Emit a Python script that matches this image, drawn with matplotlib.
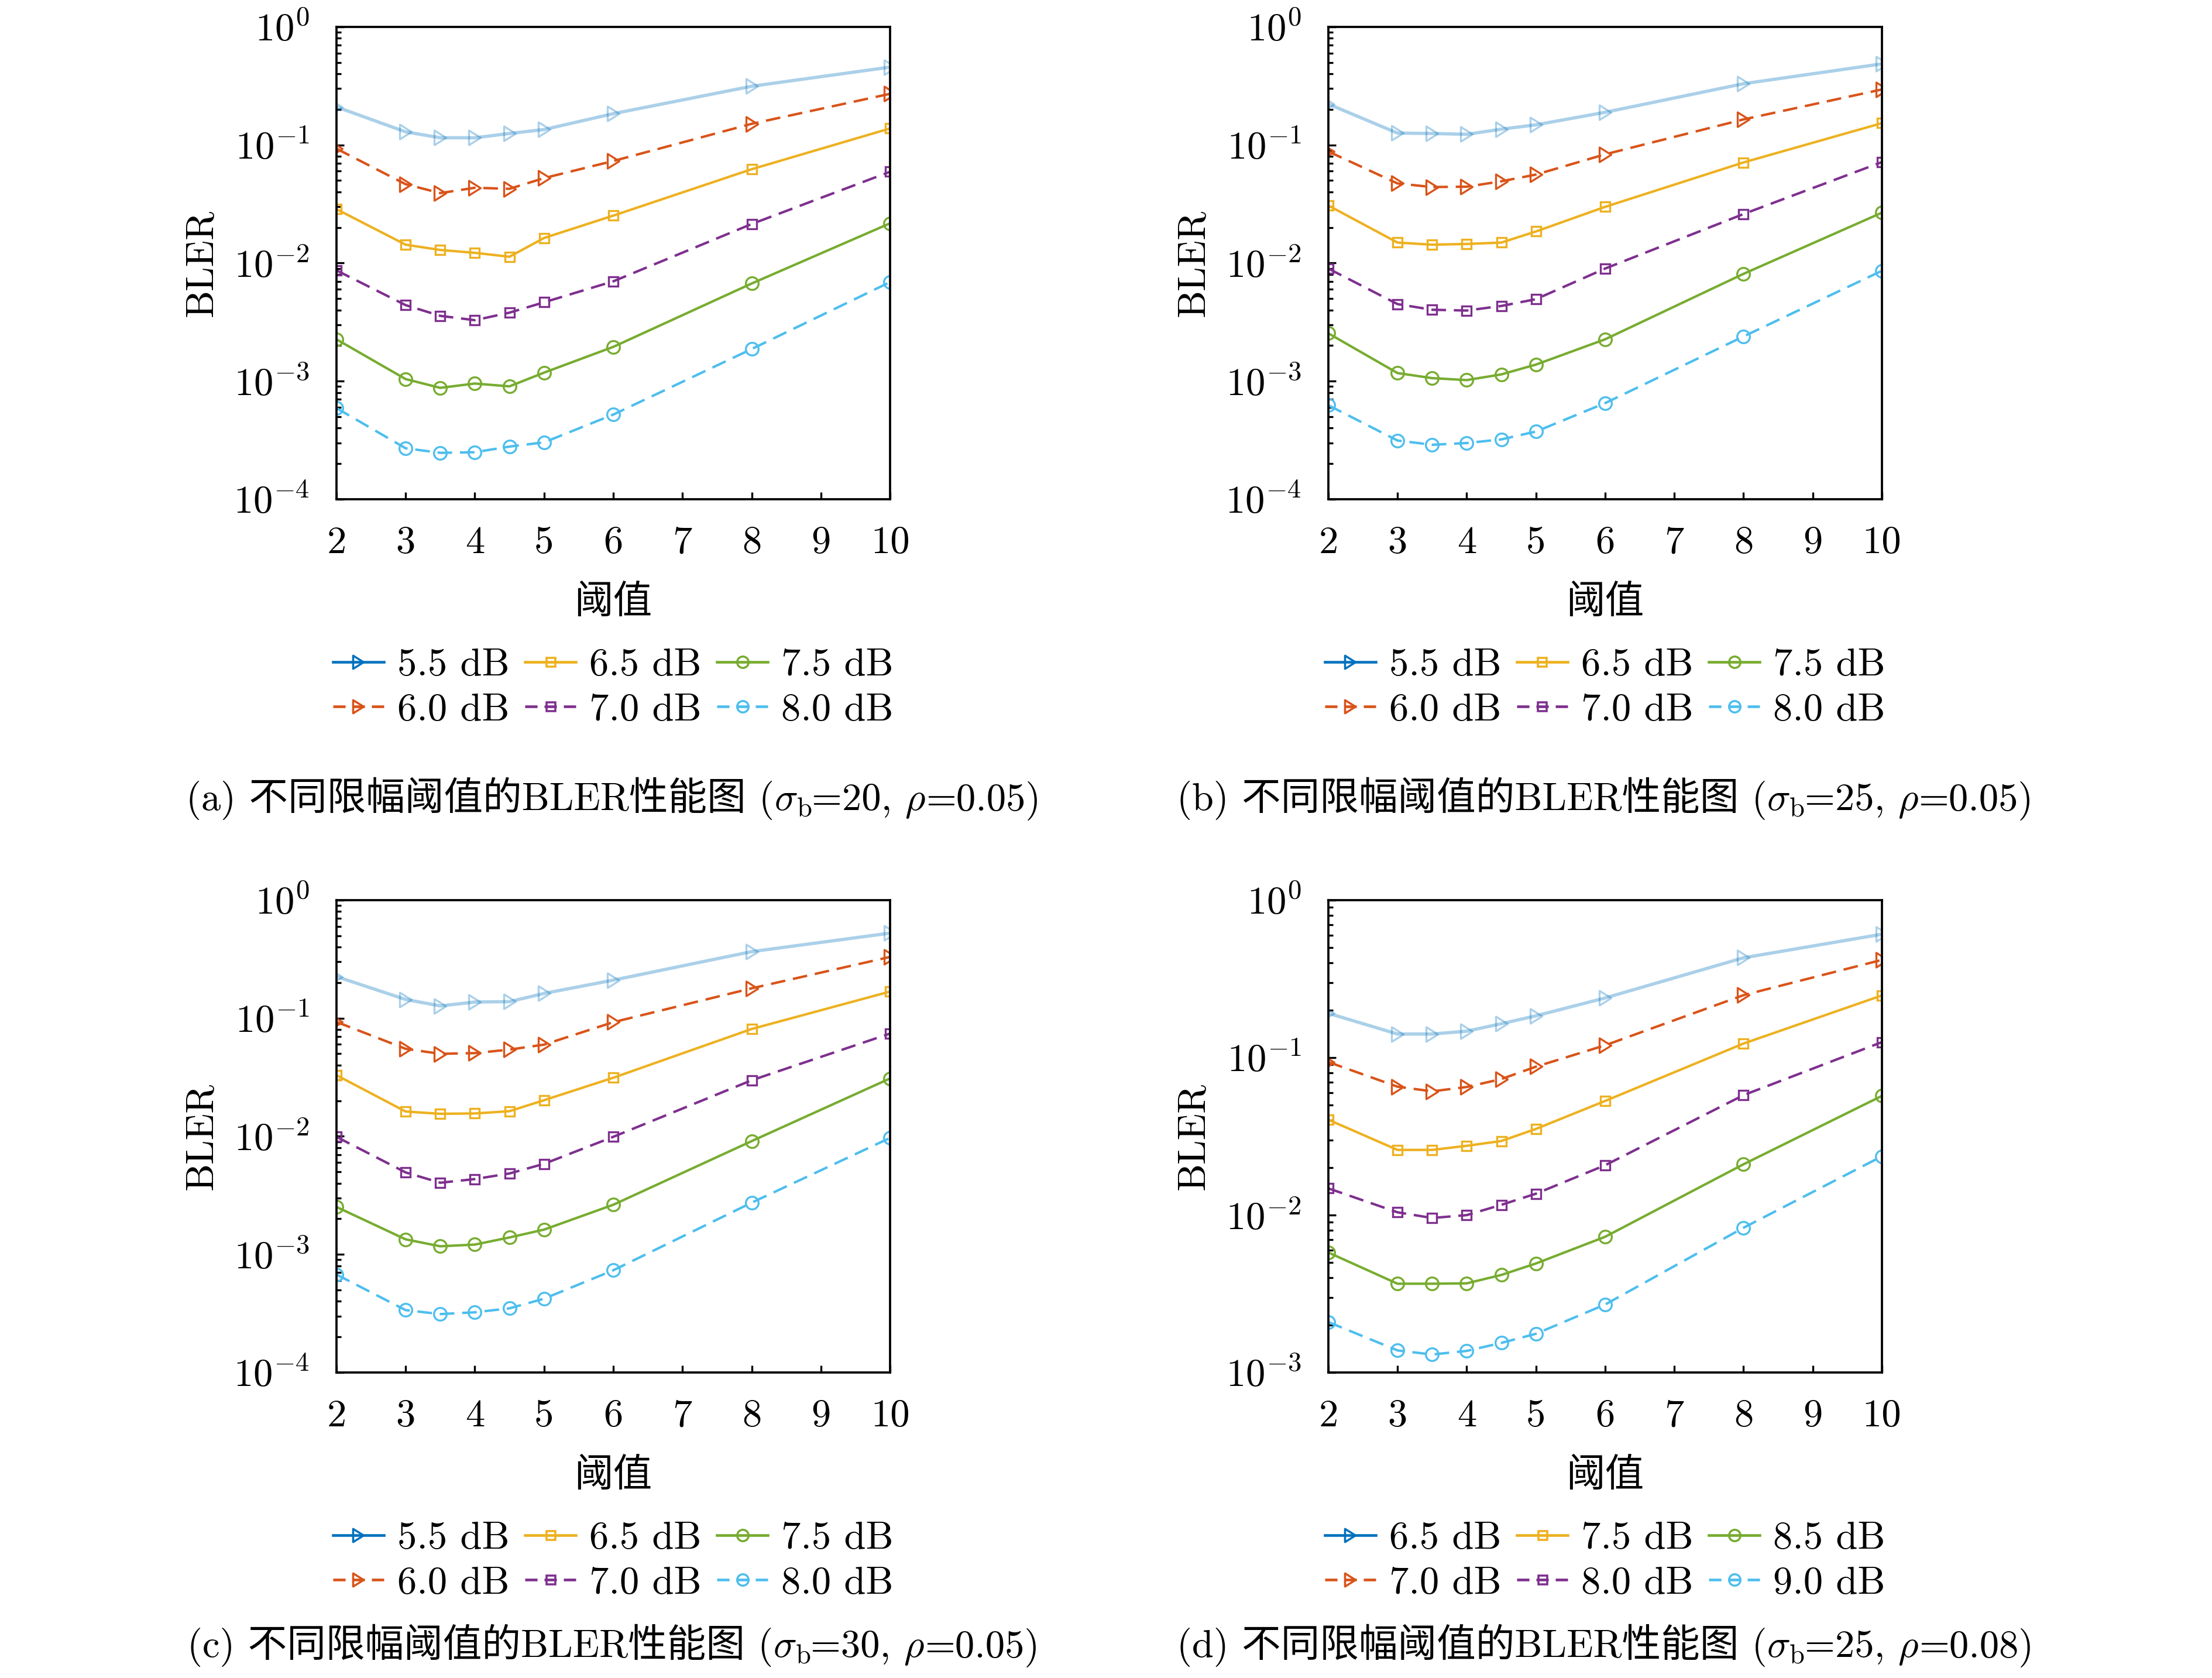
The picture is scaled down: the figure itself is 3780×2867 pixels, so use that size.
import math

import matplotlib
matplotlib.use("Agg")
import matplotlib.pyplot as plt
from matplotlib.lines import Line2D
from matplotlib.offsetbox import AnnotationBbox, HPacker, TextArea
from matplotlib.path import Path
from matplotlib.ticker import FixedLocator, FuncFormatter, LogLocator, NullFormatter

plt.rcParams["font.family"] = ["cmr10", "Noto Sans CJK SC"]
plt.rcParams["mathtext.fontset"] = "cm"
plt.rcParams["font.size"] = 16

# clipping threshold values (x axis)
thr = [2, 3, 3.5, 4, 4.5, 5, 6, 8, 10]

snr_abc = ["5.5 dB", "6.0 dB", "6.5 dB", "7.0 dB", "7.5 dB", "8.0 dB"]
snr_d = ["6.5 dB", "7.0 dB", "7.5 dB", "8.0 dB", "8.5 dB", "9.0 dB"]

# BLER curves, one row per SNR
bler_a = [
    [0.21, 0.129, 0.115, 0.115, 0.125, 0.135, 0.184, 0.314, 0.456],
    [0.093, 0.0465, 0.0391, 0.0434, 0.0425, 0.0524, 0.0731, 0.151, 0.271],
    [0.0286, 0.0143, 0.0129, 0.0122, 0.0113, 0.0163, 0.0252, 0.0623, 0.138],
    [0.00867, 0.0044, 0.00357, 0.00328, 0.0038, 0.00465, 0.0070, 0.0214, 0.0593],
    [0.00226, 0.00104, 0.000877, 0.000954, 0.000903, 0.00118, 0.00195, 0.00671, 0.0217],
    [0.000591, 0.00027, 0.000247, 0.00025, 0.000279, 0.000303, 0.000521, 0.00187, 0.0069],
]
bler_b = [
    [0.222, 0.126, 0.125, 0.123, 0.136, 0.148, 0.189, 0.33, 0.486],
    [0.088, 0.0472, 0.044, 0.0443, 0.0492, 0.0561, 0.0833, 0.1645, 0.295],
    [0.0307, 0.0149, 0.0143, 0.0145, 0.0149, 0.0185, 0.0299, 0.0711, 0.153],
    [0.00898, 0.00449, 0.00402, 0.00396, 0.00433, 0.00494, 0.00898, 0.026, 0.0716],
    [0.00254, 0.00117, 0.00106, 0.00102, 0.00114, 0.00138, 0.00226, 0.0081, 0.0267],
    [0.000625, 0.000314, 0.000289, 0.000299, 0.000321, 0.000374, 0.000651, 0.00239, 0.0086],
]
bler_c = [
    [0.225, 0.144, 0.127, 0.137, 0.138, 0.162, 0.21, 0.366, 0.525],
    [0.093, 0.055, 0.0499, 0.0506, 0.0542, 0.0597, 0.0925, 0.179, 0.33],
    [0.0329, 0.0162, 0.0155, 0.0156, 0.0163, 0.0202, 0.0313, 0.081, 0.168],
    [0.00989, 0.00494, 0.00404, 0.00434, 0.00484, 0.00584, 0.00989, 0.0298, 0.0741],
    [0.00252, 0.00134, 0.00117, 0.00121, 0.00139, 0.00162, 0.00263, 0.0091, 0.0309],
    [0.000675, 0.000337, 0.000312, 0.000323, 0.000349, 0.000421, 0.000733, 0.00274, 0.00969],
]
bler_d = [
    [0.191, 0.141, 0.141, 0.147, 0.164, 0.184, 0.239, 0.43, 0.607],
    [0.0936, 0.0653, 0.061, 0.065, 0.073, 0.0875, 0.1196, 0.249, 0.417],
    [0.0403, 0.0259, 0.0259, 0.0275, 0.0295, 0.0352, 0.053, 0.1227, 0.248],
    [0.01476, 0.0104, 0.00957, 0.00998, 0.0116, 0.01365, 0.0207, 0.0577, 0.1253],
    [0.00578, 0.00366, 0.00366, 0.00368, 0.00416, 0.00492, 0.00727, 0.021, 0.0571],
    [0.00209, 0.00138, 0.0013, 0.00137, 0.00154, 0.00176, 0.0027, 0.0083, 0.0236],
]

# caption parameters per panel
tags = ["(a)", "(b)", "(c)", "(d)"]
sigma_b = ["20", "25", "30", "25"]
rho = ["0.05", "0.05", "0.05", "0.08"]

colors = ["#0072BD", "#D95319", "#EDB120", "#7E2F8E", "#77AC30", "#4DBEEE"]
tri = Path([(-0.8, 1.0), (0.8, 0.0), (-0.8, -1.0), (-0.8, 1.0)], closed=True)
markers = [tri, tri, "s", "s", "o", "o"]
msizes = [6, 6, 4, 4, 5.2, 5.2]
dash = (0, (6, 3.2))
dash_leg = (0, (4.6, 2.6))
styles = ["-", dash, "-", dash, "-", dash]
leg_styles = ["-", dash_leg, "-", dash_leg, "-", dash_leg]


def caption_box(i):
    # CJK text and mathtext cannot share one string, so pack the pieces side by side
    parts = [
        tags[i] + " 不同限幅阈值的BLER性能图 (",
        r"$\sigma_{\mathrm{b}}$",
        "=" + sigma_b[i] + ", ",
        r"$\rho$",
        "=" + rho[i] + ")",
    ]
    areas = [TextArea(p, textprops=dict(fontsize=16)) for p in parts]
    return HPacker(children=areas, align="baseline", pad=0, sep=0)


fig = plt.figure(figsize=(12.6, 2867 / 300), dpi=300)
w, h = 0.2503, 0.2815
lefts = [0.1521, 0.6005, 0.1521, 0.6005]
bottoms = [0.7025, 0.7025, 0.1821, 0.1821]
cap_y = [0.5242, 0.5242, 0.0195, 0.0195]
panels = [(bler_a, snr_abc, 1e-4), (bler_b, snr_abc, 1e-4),
          (bler_c, snr_abc, 1e-4), (bler_d, snr_d, 1e-3)]

for i, (bler, labels, ymin) in enumerate(panels):
    ax = fig.add_axes([lefts[i], bottoms[i], w, h])
    handles = []
    for k, vals in enumerate(bler):
        alpha = 0.33 if k == 0 else 1.0
        lw = 1.35 if k == 0 else 1.0
        ax.plot(thr, vals, color=colors[k], ls=styles[k], lw=lw, alpha=alpha,
                marker=markers[k], ms=msizes[k], mfc="none", mew=0.8)
        handles.append(Line2D([], [], color=colors[k], ls=leg_styles[k], lw=1.1,
                              marker=markers[k], ms=msizes[k] * 0.9, mfc="none", mew=0.85))
    ax.set_yscale("log")
    ax.set_xlim(2, 10)
    ax.set_ylim(ymin, 1)
    ax.xaxis.set_major_locator(FixedLocator(range(2, 11)))
    ax.yaxis.set_major_locator(LogLocator(base=10, numticks=10))
    ax.yaxis.set_minor_locator(LogLocator(base=10, subs=range(2, 10), numticks=20))
    ax.yaxis.set_minor_formatter(NullFormatter())
    ax.yaxis.set_major_formatter(FuncFormatter(lambda v, p: r"$10^{%d}$" % round(math.log10(v))))
    ax.tick_params(which="both", direction="in", top=False, right=False, width=0.8)
    ax.tick_params(which="major", length=3)
    ax.tick_params(which="minor", length=1.8)
    ax.tick_params(axis="x", which="major", pad=11)
    ax.tick_params(axis="y", which="major", pad=11)
    for sp in ax.spines.values():
        sp.set_linewidth(0.9)
    ax.set_xlabel("阈值")
    ax.xaxis.label.set_va("center")
    ax.xaxis.set_label_coords(0.5, -0.22)
    ax.set_ylabel("BLER")
    ax.yaxis.label.set_va("center")
    ax.yaxis.set_label_coords(-0.243, 0.5)
    ax.legend(handles, labels, ncol=3, loc="center", bbox_to_anchor=(0.5, -0.40),
              frameon=False, handlelength=1.3, handletextpad=0.35,
              columnspacing=0.4, labelspacing=0.25, borderpad=0, borderaxespad=0)
    ab = AnnotationBbox(caption_box(i), (lefts[i] + w / 2, cap_y[i]),
                        xycoords="figure fraction", frameon=False,
                        box_alignment=(0.5, 0.5), pad=0)
    fig.add_artist(ab)

fig.savefig("out.png", dpi=300)
